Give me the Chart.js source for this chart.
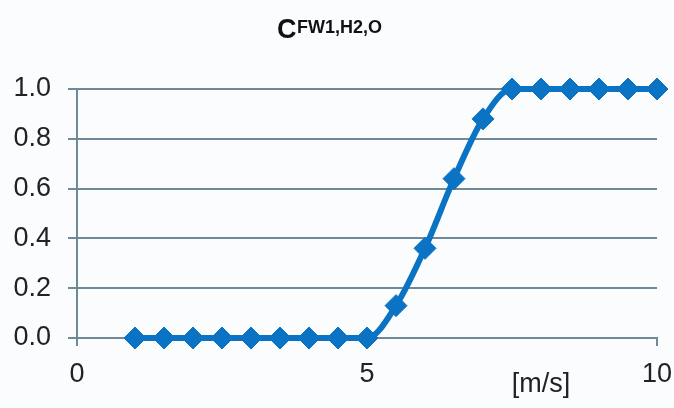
<!DOCTYPE html>
<html>
<head>
<meta charset="utf-8">
<script src="https://cdn.jsdelivr.net/npm/chart.js@4"></script>
<style>
  html, body { margin: 0; padding: 0; background: #fbfcfe; }
  #wrap { width: 674px; height: 408px; }
</style>
</head>
<body>
<div id="wrap"><canvas id="chart" width="674" height="408"></canvas></div>
<script>
// wind speed [m/s] and coefficient values
const speeds = [1, 1.5, 2, 2.5, 3, 3.5, 4, 4.5, 5, 5.5, 6, 6.5, 7, 7.5, 8, 8.5, 9, 9.5, 10];
const coeff = [0, 0, 0, 0, 0, 0, 0, 0, 0, 0.13, 0.36, 0.64, 0.88, 1.0, 1.0, 1.0, 1.0, 1.0, 1.0];
const xTicks = [0, 5, 10];
const yTicks = [0, 0.2, 0.4, 0.6, 0.8, 1.0];

const font = '"Liberation Sans", Arial, sans-serif';
const gridColor = '#6f8a96';
const blue = '#0b73c4';

// title with superscript, and the unit label under the x axis
const extraText = {
  id: 'extraText',
  afterDraw(chart) {
    const ctx = chart.ctx;
    ctx.save();
    ctx.fillStyle = '#111';
    ctx.textBaseline = 'alphabetic';
    ctx.textAlign = 'left';
    ctx.font = 'bold 27px ' + font;
    ctx.fillText('C', 277, 38);
    ctx.font = 'bold 18px ' + font;
    ctx.fillText('FW1,H2,O', 297, 33);
    const xs = chart.scales.x;
    ctx.font = '27px ' + font;
    ctx.textAlign = 'center';
    ctx.textBaseline = 'middle';
    ctx.fillStyle = '#222';
    ctx.fillText('[m/s]', xs.getPixelForValue(8.0), 385);
    ctx.restore();
  }
};

new Chart(document.getElementById('chart'), {
  type: 'scatter',
  data: {
    datasets: [{
      data: speeds.map((s, i) => ({ x: s, y: coeff[i] })),
      showLine: true,
      borderColor: blue,
      backgroundColor: blue,
      borderWidth: 6,
      cubicInterpolationMode: 'monotone',
      pointStyle: 'rectRot',
      pointRadius: 11,
      pointBorderWidth: 1,
      pointBackgroundColor: blue,
      pointBorderColor: blue,
      clip: false
    }]
  },
  options: {
    responsive: false,
    animation: false,
    layout: { padding: { top: 89, right: 17, left: 0, bottom: 0 } },
    plugins: { legend: { display: false }, tooltip: { enabled: false } },
    scales: {
      x: {
        type: 'linear',
        min: 0,
        max: 10,
        afterFit: s => { s.height = 70; s.paddingLeft = 0; s.paddingRight = 0; },
        afterBuildTicks: s => { s.ticks = xTicks.map(v => ({ value: v })); },
        grid: { drawOnChartArea: false, color: gridColor, lineWidth: 2, tickLength: 8 },
        border: { color: gridColor, width: 2 },
        ticks: { color: '#222', font: { family: font, size: 27 }, padding: 12, maxRotation: 0 }
      },
      y: {
        min: 0,
        max: 1,
        afterFit: s => { s.width = 77; s.paddingTop = 0; s.paddingBottom = 0; },
        afterBuildTicks: s => { s.ticks = yTicks.map(v => ({ value: v })); },
        grid: { color: gridColor, lineWidth: 2, tickLength: 9 },
        border: { color: gridColor, width: 2 },
        ticks: {
          color: '#222',
          font: { family: font, size: 27 },
          padding: 17,
          callback: v => v.toFixed(1)
        }
      }
    }
  },
  plugins: [extraText]
});
</script>
</body>
</html>
